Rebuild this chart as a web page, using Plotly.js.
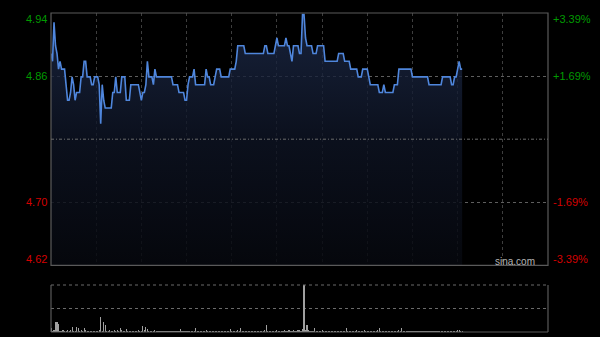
<!DOCTYPE html>
<html><head><meta charset="utf-8">
<script src="https://cdn.plot.ly/plotly-3.0.1.min.js"></script>
<style>html,body{margin:0;padding:0;background:#000;overflow:hidden;}#chart{width:600px;height:337px;}</style>
</head><body><div id="chart"></div>
<script>
const prevClose = 4.78;
const pctTicks = [3.39, 1.69, -1.69, -3.39];
const sessionMinutes = 330;
const gridStep = 30;

const prices = [
4.89,4.88,4.93,4.90,4.89,4.87,4.88,4.87,4.87,4.87,
4.85,4.83,4.83,4.84,4.86,4.85,4.83,4.84,4.84,4.84,
4.86,4.86,4.88,4.88,4.86,4.86,4.86,4.85,4.85,4.86,
4.86,4.86,4.85,4.80,4.85,4.83,4.82,4.82,4.82,4.82,
4.82,4.84,4.84,4.86,4.84,4.84,4.84,4.86,4.86,4.86,
4.83,4.83,4.83,4.85,4.85,4.85,4.85,4.85,4.85,4.84,
4.83,4.84,4.84,4.85,4.88,4.86,4.86,4.86,4.85,4.87,
4.86,4.86,4.86,4.86,4.86,4.86,4.86,4.86,4.86,4.86,
4.86,4.85,4.85,4.85,4.85,4.84,4.84,4.84,4.84,4.83,
4.83,4.85,4.86,4.86,4.86,4.87,4.85,4.85,4.85,4.85,
4.85,4.85,4.85,4.87,4.86,4.86,4.85,4.85,4.85,4.86,
4.87,4.87,4.87,4.86,4.86,4.86,4.86,4.86,4.86,4.87,
4.87,4.87,4.87,4.88,4.90,4.90,4.90,4.90,4.90,4.89,
4.89,4.89,4.89,4.89,4.89,4.89,4.89,4.89,4.89,4.89,
4.89,4.89,4.90,4.90,4.89,4.89,4.89,4.89,4.89,4.90,
4.91,4.90,4.90,4.90,4.90,4.90,4.91,4.90,4.90,4.89,
4.88,4.90,4.90,4.90,4.90,4.89,4.89,4.94,4.94,4.91,
4.90,4.90,4.90,4.90,4.89,4.89,4.89,4.90,4.90,4.90,
4.90,4.90,4.88,4.88,4.88,4.88,4.88,4.88,4.88,4.88,
4.88,4.89,4.89,4.89,4.89,4.88,4.88,4.88,4.88,4.87,
4.87,4.87,4.87,4.87,4.86,4.86,4.86,4.87,4.87,4.87,
4.87,4.86,4.85,4.85,4.85,4.85,4.85,4.85,4.84,4.84,
4.84,4.85,4.84,4.84,4.84,4.84,4.84,4.84,4.85,4.85,
4.85,4.87,4.87,4.87,4.87,4.87,4.87,4.87,4.87,4.87,
4.86,4.86,4.86,4.86,4.86,4.86,4.86,4.86,4.86,4.86,
4.86,4.85,4.85,4.85,4.85,4.85,4.85,4.85,4.85,4.85,
4.86,4.86,4.86,4.86,4.86,4.86,4.85,4.85,4.86,4.86,
4.87,4.88,4.87,4.87
];

const volumes = [
8,3,4,21,22,17,3,2,4,3,
3,4,3,4,11,3,2,11,8,3,
4,3,8,4,2,3,2,3,2,3,
2,3,4,32,3,21,14,3,2,4,
3,2,5,3,4,3,9,4,3,2,
6,3,2,3,2,3,2,3,4,2,
3,13,4,11,6,3,2,3,2,4,
2,3,2,2,3,2,2,3,2,2,
3,2,2,3,2,2,6,2,3,2,
2,3,2,3,2,3,8,2,3,2,
2,3,2,4,2,2,3,2,2,3,
2,2,3,2,2,3,2,2,3,6,
2,3,2,3,4,3,8,3,2,2,
3,2,2,3,2,2,3,2,2,3,
2,3,4,14,3,2,3,2,2,3,
4,3,2,3,2,4,3,2,5,3,
2,5,3,2,4,5,3,6,100,4,
16,4,3,2,3,8,3,2,3,2,
4,3,2,3,2,2,3,2,3,2,
2,3,2,3,2,3,8,2,3,2,
2,3,2,4,3,2,3,2,4,2,
3,2,2,3,2,2,3,4,8,3,
2,3,2,2,3,2,3,2,3,2,
2,4,3,8,2,3,2,2,3,2,
3,2,2,3,2,2,3,2,2,3,
2,3,2,2,3,2,2,3,2,2,
3,2,2,3,2,3,2,3,2,3,
5,4,2,3
];

const minutes = prices.map((_, i) => i);
const tickPrices = pctTicks.map(p => prevClose * (1 + p / 100));
const yMax = tickPrices[0], yMin = tickPrices[tickPrices.length - 1];
const volMax = Math.max(...volumes);

const FONT = 'Liberation Sans, Arial, sans-serif';
const GREEN = '#009a00', RED = '#d40000';

const priceTrace = {
  x: minutes, y: prices, type: 'scatter', mode: 'lines',
  line: {color: '#4f86dc', width: 1.6, shape: 'linear'},
  fill: 'tozeroy',
  fillgradient: {type: 'vertical', start: yMin, stop: yMax,
    colorscale: [[0, 'rgba(6,8,14,0.85)'], [0.5, 'rgba(14,20,36,0.8)'], [1, 'rgba(30,44,76,0.78)']]},
  hoverinfo: 'skip', xaxis: 'x', yaxis: 'y'
};
const volTrace = {
  x: minutes, y: volumes, type: 'bar', width: 0.75,
  marker: {color: '#a0a0a0', line: {width: 0}},
  hoverinfo: 'skip', xaxis: 'x2', yaxis: 'y2'
};

const annotations = [];
pctTicks.forEach((p, i) => {
  const v = tickPrices[i];
  const col = p > 0 ? GREEN : RED;
  const shift = i === 0 ? -6 : (i === pctTicks.length - 1 ? 6 : 0);
  annotations.push({xref: 'x domain', yref: 'y', x: 0, y: v, xanchor: 'right', yanchor: 'middle',
    xshift: -2, yshift: shift, showarrow: false, text: v.toFixed(2), font: {family: FONT, size: 11, color: col}});
  annotations.push({xref: 'x domain', yref: 'y', x: 1, y: v, xanchor: 'left', yanchor: 'middle',
    xshift: 3, yshift: shift, showarrow: false, text: (p > 0 ? '+' : '') + p.toFixed(2) + '%', font: {family: FONT, size: 11, color: col}});
});
annotations.push({xref: 'x domain', yref: 'y domain', x: 1, y: 0, xanchor: 'right', yanchor: 'middle',
  xshift: -11, yshift: 4, showarrow: false, text: 'sina.com', font: {family: FONT, size: 10, color: '#b4b4b4'}});

const borderCol = '#5a5a5a';
const shapes = [
  {type: 'rect', xref: 'x domain', yref: 'y domain', x0: 0, x1: 1, y0: 0, y1: 1, line: {color: borderCol, width: 1.2}, layer: 'above'},
  {type: 'line', xref: 'x domain', yref: 'y', x0: 0, x1: 1, y0: prevClose, y1: prevClose, line: {color: '#6a6a6a', width: 1, dash: '3px,2px,1px,2px'}, layer: 'above'},
  {type: 'line', xref: 'x2 domain', yref: 'y2 domain', x0: 0, x1: 0, y0: 0, y1: 1, line: {color: borderCol, width: 1.2}},
  {type: 'line', xref: 'x2 domain', yref: 'y2 domain', x0: 1, x1: 1, y0: 0, y1: 1, line: {color: borderCol, width: 1.2}},
  {type: 'line', xref: 'x2 domain', yref: 'y2 domain', x0: 0, x1: 1, y0: 0, y1: 0, line: {color: borderCol, width: 1.2}},
  {type: 'line', xref: 'x2 domain', yref: 'y2 domain', x0: 0, x1: 1, y0: 1, y1: 1, line: {color: '#6a6a6a', width: 1, dash: 'dot'}}
];

const layout = {
  width: 600, height: 337,
  margin: {l: 51, r: 52, t: 13, b: 5, pad: 0},
  paper_bgcolor: '#000', plot_bgcolor: '#000',
  showlegend: false, bargap: 0,
  xaxis: {domain: [0, 1], range: [0, sessionMinutes], tick0: 0, dtick: gridStep, showticklabels: false, ticks: '',
    showgrid: true, gridcolor: '#3e3e3e', griddash: 'dot', gridwidth: 1, zeroline: false, showline: false, fixedrange: true},
  yaxis: {domain: [0.2088, 1], range: [yMin, yMax], tickvals: [tickPrices[1], tickPrices[2]], showticklabels: false, ticks: '',
    showgrid: true, gridcolor: '#5e5e5e', griddash: 'dot', gridwidth: 1, zeroline: false, showline: false, fixedrange: true},
  xaxis2: {domain: [0, 1], anchor: 'y2', range: [0, sessionMinutes], showticklabels: false, ticks: '',
    showgrid: false, zeroline: false, showline: false},
  yaxis2: {domain: [0, 0.1473], anchor: 'x2', range: [0, volMax * 1.005], tickvals: [volMax / 2], showticklabels: false, ticks: '',
    showgrid: true, gridcolor: '#6a6a6a', griddash: 'dot', gridwidth: 1, zeroline: false, showline: false},
  annotations: annotations,
  shapes: shapes
};

Plotly.newPlot('chart', [priceTrace, volTrace], layout, {staticPlot: true, displayModeBar: false});
</script>
</body></html>
